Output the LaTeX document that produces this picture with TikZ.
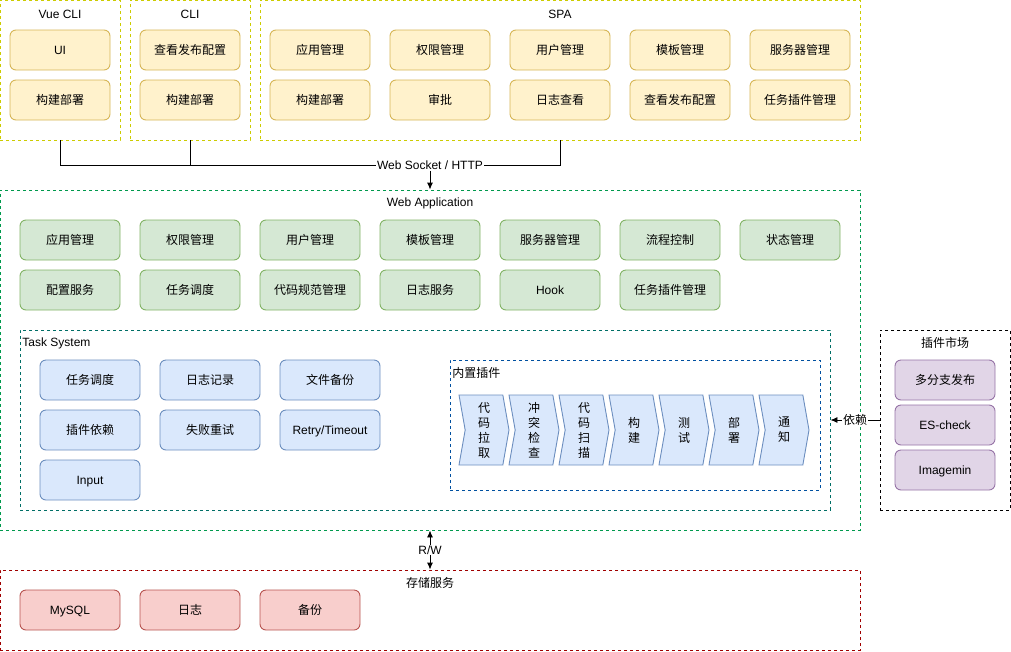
\documentclass[tikz,border=0pt]{standalone}
\usepackage{fontspec}
\setmainfont{Liberation Sans}
\newfontfamily\cjk{Noto Sans CJK SC}
\usetikzlibrary{shapes.symbols,arrows.meta}
\definecolor{yelDash}{HTML}{CCCC00}
\definecolor{grnDash}{HTML}{00994D}
\definecolor{tealDash}{HTML}{006E66}
\definecolor{bluDash}{HTML}{0050A0}
\definecolor{redDash}{HTML}{A00000}
\definecolor{yelFill}{HTML}{FFF2CC}
\definecolor{yelLine}{HTML}{D6B656}
\definecolor{grnFill}{HTML}{D5E8D4}
\definecolor{grnLine}{HTML}{82B366}
\definecolor{bluFill}{HTML}{DAE8FC}
\definecolor{bluLine}{HTML}{6C8EBF}
\definecolor{purFill}{HTML}{E1D5E7}
\definecolor{purLine}{HTML}{9673A6}
\definecolor{redFill}{HTML}{F8CECC}
\definecolor{redLine}{HTML}{B85450}
\tikzset{
  every node/.style={font=\fontsize{12}{14}\selectfont},
  zh/.style={font=\fontsize{12}{15}\selectfont\cjk},
  grp/.style={draw=#1, dash pattern=on 3pt off 3pt, line width=0.9pt},
  box/.style={draw, rounded corners=6, minimum width=100, minimum height=40, line width=0.9pt,
    inner sep=0, text height=10pt, text depth=1.4pt},
  ybox/.style={box, draw=yelLine, fill=yelFill},
  gbox/.style={box, draw=grnLine, fill=grnFill},
  bbox/.style={box, draw=bluLine, fill=bluFill},
  pbox/.style={box, draw=purLine, fill=purFill},
  rbox/.style={box, draw=redLine, fill=redFill},
  chev/.style={shape=signal, signal from=west, signal to=east, signal pointer angle=160,
    draw=bluLine, fill=bluFill, line width=0.9pt, minimum width=50, minimum height=70, align=center, inner sep=0},
  lbl/.style={fill=white, inner sep=1pt}
}
\begin{document}
\begin{tikzpicture}[>={Latex[length=7pt,width=6pt]}, x=1pt, y=-1pt, line width=0.9pt]
\useasboundingbox (0,0) rectangle (1011,651);

\node(VueCLI)[grp=yelDash, minimum width=120, minimum height=140] at (60,70) {};
\node(VueT) at (60,14) {Vue CLI};
\node(VueUI)[ybox] at (60,50) {UI};
\node(VueBuild)[ybox, zh] at (60,100) {构建部署};

\node(CLI)[grp=yelDash, minimum width=120, minimum height=140] at (190,70) {};
\node(CLIT) at (190,14) {CLI};
\node(CLIConf)[ybox, zh] at (190,50) {查看发布配置};
\node(CLIBuild)[ybox, zh] at (190,100) {构建部署};

\node(SPA)[grp=yelDash, minimum width=600, minimum height=140] at (560,70) {};
\node(SPAT) at (560,14) {SPA};
\node(S1)[ybox, zh] at (320,50) {应用管理};
\node(S2)[ybox, zh] at (440,50) {权限管理};
\node(S3)[ybox, zh] at (560,50) {用户管理};
\node(S4)[ybox, zh] at (680,50) {模板管理};
\node(S5)[ybox, zh] at (800,50) {服务器管理};
\node(S6)[ybox, zh] at (320,100) {构建部署};
\node(S7)[ybox, zh] at (440,100) {审批};
\node(S8)[ybox, zh] at (560,100) {日志查看};
\node(S9)[ybox, zh] at (680,100) {查看发布配置};
\node(S10)[ybox, zh] at (800,100) {任务插件管理};

\node(WebApp)[grp=grnDash, minimum width=860, minimum height=340] at (430,360) {};
\node(WebT) at (430,203) {Web Application};
\node(A1)[gbox, zh] at (70,240) {应用管理};
\node(A2)[gbox, zh] at (190,240) {权限管理};
\node(A3)[gbox, zh] at (310,240) {用户管理};
\node(A4)[gbox, zh] at (430,240) {模板管理};
\node(A5)[gbox, zh] at (550,240) {服务器管理};
\node(A6)[gbox, zh] at (670,240) {流程控制};
\node(A7)[gbox, zh] at (790,240) {状态管理};
\node(A8)[gbox, zh] at (70,290) {配置服务};
\node(A9)[gbox, zh] at (190,290) {任务调度};
\node(A10)[gbox, zh] at (310,290) {代码规范管理};
\node(A11)[gbox, zh] at (430,290) {日志服务};
\node(A12)[gbox] at (550,290) {Hook};
\node(A13)[gbox, zh] at (670,290) {任务插件管理};

\node(TaskSys)[grp=tealDash, minimum width=810, minimum height=180] at (425,420) {};
\node(TaskT)[anchor=west, inner sep=1pt] at (21,343) {Task System};
\node(K1)[bbox, zh] at (90,380) {任务调度};
\node(K2)[bbox, zh] at (210,380) {日志记录};
\node(K3)[bbox, zh] at (330,380) {文件备份};
\node(K4)[bbox, zh] at (90,430) {插件依赖};
\node(K5)[bbox, zh] at (210,430) {失败重试};
\node(K6)[bbox] at (330,430) {Retry/Timeout};
\node(K7)[bbox] at (90,480) {Input};

\node(Inner)[grp=bluDash, minimum width=370, minimum height=130] at (635,425) {};
\node(InnerT)[anchor=west, inner sep=1pt, zh] at (451,373) {内置插件};
\node(P1)[chev, zh] at (484,430) {代\\码\\拉\\取};
\node(P2)[chev, zh] at (534,430) {冲\\突\\检\\查};
\node(P3)[chev, zh] at (584,430) {代\\码\\扫\\描};
\node(P4)[chev, zh] at (634,430) {构\\建};
\node(P5)[chev, zh] at (684,430) {测\\试};
\node(P6)[chev, zh] at (734,430) {部\\署};
\node(P7)[chev, zh] at (784,430) {通\\知};

\node(Market)[grp=black, minimum width=130, minimum height=180] at (945,420) {};
\node(MarketT)[zh] at (945,343) {插件市场};
\node(M1)[pbox, zh] at (945,380) {多分支发布};
\node(M2)[pbox] at (945,425) {ES-check};
\node(M3)[pbox] at (945,470) {Imagemin};

\node(Store)[grp=redDash, minimum width=860, minimum height=80] at (430,610) {};
\node(StoreT)[zh] at (430,583) {存储服务};
\node(D1)[rbox] at (70,610) {MySQL};
\node(D2)[rbox, zh] at (190,610) {日志};
\node(D3)[rbox, zh] at (310,610) {备份};

\node(WS)[lbl] at (430,165) {Web Socket / HTTP};
\draw (VueCLI.south) |- (WS.west);
\draw (CLI.south) -- (CLI.south |- WS.west);
\draw (SPA.south) |- (WS.east);
\draw (WS.south) edge[->] (WebApp.north);

\draw (Market.west) edge[->] node[lbl, zh]{依赖} (TaskSys.east);
\draw (WebApp.south) edge[<->] node[lbl]{R/W} (Store.north);
\end{tikzpicture}
\end{document}
